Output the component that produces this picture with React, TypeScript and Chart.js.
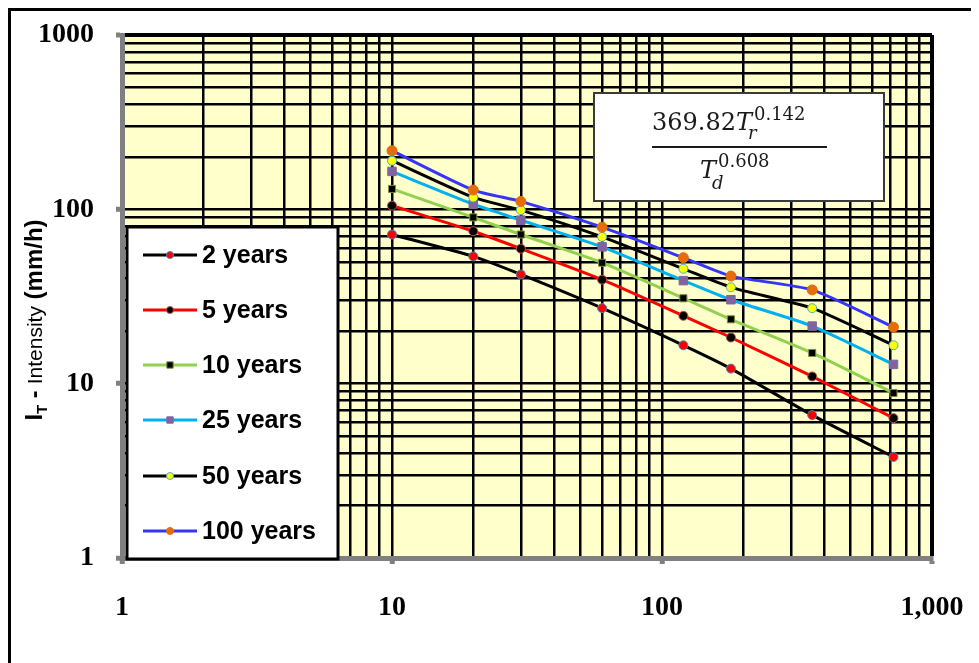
import React, { useEffect, useRef } from 'react';
import { Chart, registerables } from 'chart.js';

Chart.register(...registerables);

// ---------- data ----------
const DURATIONS = [10, 20, 30, 60, 120, 180, 360, 720];
const SERIES_NAMES = ['2 years', '5 years', '10 years', '25 years', '50 years', '100 years'];
const I_2YR = [71.7, 53.7, 42.3, 27.1, 16.6, 12.2, 6.6, 3.8];
const I_5YR = [105, 74.9, 59.5, 39.5, 24.5, 18.4, 11.0, 6.34];
const I_10YR = [131, 89.9, 71.7, 49.4, 30.9, 23.4, 15.0, 8.84];
const I_25YR = [165, 107, 86.7, 60.9, 39.0, 30.3, 21.4, 12.9];
const I_50YR = [190, 117, 99, 69.5, 45.6, 35.7, 27.1, 16.6];
const I_100YR = [217, 129, 111, 79, 52.8, 41.4, 34.5, 21.1];
const SERIES_VALUES = [I_2YR, I_5YR, I_10YR, I_25YR, I_50YR, I_100YR];

const X_TICK_VALUES = [1, 10, 100, 1000];
const X_TICK_LABELS = ['1', '10', '100', '1,000'];
const Y_TICK_VALUES = [1, 10, 100, 1000];
const Y_TICK_LABELS = ['1', '10', '100', '1000'];
const GRID_MULTIPLIERS = [1, 2, 3, 4, 5, 6, 7, 8, 9];
const GRID_DECADES = [1, 10, 100];

const Y_TITLE_PARTS = ['I', 'T', ' - ', 'Intensity', ' (mm/h)'];

// ---------- styles ----------
const LINE_COLORS = ['#000000', '#FF0000', '#92D050', '#00B0F0', '#000000', '#3535F5'];
const MARKER_FILL = ['#FF0000', '#000000', '#000000', '#8064A2', '#FFFF00', '#E46C0A'];
const MARKER_BORDER = ['#4F81BD', '#C0504D', '#77933C', '#8064A2', '#4BACC6', '#E46C0A'];
const MARKER_STYLE = ['circle', 'circle', 'rect', 'rect', 'circle', 'circle'];
const MARKER_RADIUS = [4.5, 4.5, 5, 6, 4.5, 5];

const GRID_VALUES: number[] = [];
GRID_DECADES.forEach((d) => GRID_MULTIPLIERS.forEach((m) => GRID_VALUES.push(m * d)));
GRID_VALUES.push(1000);

function labelFor(values: number[], labels: string[], v: number) {
  const i = values.indexOf(v);
  return i >= 0 ? labels[i] : '';
}

function drawMarker(ctx: CanvasRenderingContext2D, i: number, x: number, y: number, r: number) {
  ctx.fillStyle = MARKER_FILL[i];
  ctx.strokeStyle = MARKER_BORDER[i];
  ctx.lineWidth = 1;
  ctx.beginPath();
  if (MARKER_STYLE[i] === 'rect') {
    const s = r * Math.SQRT1_2;
    ctx.rect(x - s, y - s, 2 * s, 2 * s);
  } else {
    ctx.arc(x, y, r, 0, Math.PI * 2);
  }
  ctx.fill();
  ctx.stroke();
}

function drawLegend(ctx: CanvasRenderingContext2D) {
  const bx = 119, by = 219, bw = 211, bh = 332;
  ctx.fillStyle = '#FFFFFF';
  ctx.fillRect(bx, by, bw, bh);
  ctx.strokeStyle = '#000000';
  ctx.lineWidth = 3;
  ctx.strokeRect(bx, by, bw, bh);
  const rows = [247, 302, 357, 412, 468, 523];
  SERIES_NAMES.forEach((name, i) => {
    const y = rows[i];
    ctx.strokeStyle = LINE_COLORS[i];
    ctx.lineWidth = 3;
    ctx.beginPath();
    ctx.moveTo(135, y);
    ctx.lineTo(189, y);
    ctx.stroke();
    drawMarker(ctx, i, 162, y, MARKER_STYLE[i] === 'rect' ? 4.5 : 3.5);
    ctx.fillStyle = '#000000';
    ctx.font = 'bold 25px "Liberation Sans", Arial, sans-serif';
    ctx.textAlign = 'left';
    ctx.textBaseline = 'middle';
    ctx.fillText(name, 194, y + 1);
  });
}

function drawFormula(ctx: CanvasRenderingContext2D) {
  const bx = 586, by = 85, bw = 290, bh = 108;
  ctx.fillStyle = '#FFFFFF';
  ctx.fillRect(bx, by, bw, bh);
  ctx.strokeStyle = '#3a3a3a';
  ctx.lineWidth = 2;
  ctx.strokeRect(bx, by, bw, bh);
  ctx.fillStyle = '#1a1a1a';
  ctx.textAlign = 'left';
  ctx.textBaseline = 'alphabetic';
  const serif = '"DejaVu Serif", serif';
  // numerator
  let x = 644;
  const yb = 122;
  ctx.font = `24px ${serif}`;
  ctx.fillText('369.82', x, yb);
  x += ctx.measureText('369.82').width;
  ctx.font = `italic 24px ${serif}`;
  ctx.fillText('T', x, yb);
  x += ctx.measureText('T').width;
  ctx.font = `18px ${serif}`;
  ctx.fillText('0.142', x + 2, yb - 10);
  ctx.font = `italic 18px ${serif}`;
  ctx.fillText('r', x - 4, yb + 9);
  // fraction bar
  ctx.fillRect(644, 138, 175, 2);
  // denominator
  let xd = 692;
  const yd = 170;
  ctx.font = `italic 24px ${serif}`;
  ctx.fillText('T', xd, yd);
  xd += ctx.measureText('T').width;
  ctx.font = `18px ${serif}`;
  ctx.fillText('0.608', xd + 2, yd - 11);
  ctx.font = `italic 18px ${serif}`;
  ctx.fillText('d', xd - 4, yd + 11);
}

function drawYTitle(ctx: CanvasRenderingContext2D) {
  const fonts = [
    'bold 24px "Liberation Sans", Arial, sans-serif',
    'bold 15px "Liberation Sans", Arial, sans-serif',
    'bold 23px "Liberation Sans", Arial, sans-serif',
    '21px "Liberation Sans", Arial, sans-serif',
    'bold 24px "Liberation Sans", Arial, sans-serif',
  ];
  const offsets = [0, 5, 0, 0, 0];
  const widths = Y_TITLE_PARTS.map((t, i) => {
    ctx.font = fonts[i];
    return ctx.measureText(t).width;
  });
  const total = widths.reduce((a, b) => a + b, 0);
  ctx.save();
  ctx.translate(34, 312);
  ctx.rotate(-Math.PI / 2);
  ctx.fillStyle = '#000000';
  ctx.textAlign = 'left';
  ctx.textBaseline = 'alphabetic';
  let x = -total / 2;
  Y_TITLE_PARTS.forEach((t, i) => {
    ctx.font = fonts[i];
    ctx.fillText(t, x, offsets[i]);
    x += widths[i];
  });
  ctx.restore();
}

const decorPlugin = {
  id: 'decor',
  beforeDraw(chart: any) {
    const { ctx, chartArea: a } = chart;
    ctx.save();
    ctx.fillStyle = '#FFFFCC';
    ctx.fillRect(a.left, a.top, a.right - a.left, a.bottom - a.top);
    ctx.strokeStyle = '#000000';
    ctx.lineWidth = 4;
    ctx.strokeRect(1, 1, chart.width + 20, chart.height + 20);
    ctx.restore();
  },
  afterDraw(chart: any) {
    const ctx = chart.ctx as CanvasRenderingContext2D;
    ctx.save();
    drawLegend(ctx);
    drawFormula(ctx);
    drawYTitle(ctx);
    ctx.restore();
  },
};

function gridOptions() {
  return {
    color: '#000000',
    lineWidth: (c: any) => (c.tick && c.tick.value === 1000 ? 4 : 2.5),
    drawTicks: true,
    tickLength: 6,
    tickWidth: 5,
    tickColor: (c: any) =>
      c.tick && X_TICK_VALUES.indexOf(c.tick.value) >= 0 ? '#808080' : 'rgba(0,0,0,0)',
  };
}

export default function App() {
  const ref = useRef<HTMLCanvasElement>(null);
  useEffect(() => {
    const datasets = SERIES_NAMES.map((name, i) => ({
      label: name,
      data: DURATIONS.map((d, j) => ({ x: d, y: SERIES_VALUES[i][j] })),
      borderColor: LINE_COLORS[i],
      backgroundColor: MARKER_FILL[i],
      pointBackgroundColor: MARKER_FILL[i],
      pointBorderColor: MARKER_BORDER[i],
      pointBorderWidth: 1,
      pointStyle: MARKER_STYLE[i],
      pointRadius: MARKER_RADIUS[i],
      borderWidth: 3,
      tension: 0.2,
      fill: false,
      order: SERIES_NAMES.length - i,
    }));
    const chart = new Chart(ref.current!, {
      type: 'line',
      data: { datasets },
      plugins: [decorPlugin],
      options: {
        animation: false,
        responsive: false,
        devicePixelRatio: 1,
        layout: { padding: { left: 0, top: 27, right: 76, bottom: 0 } },
        plugins: { legend: { display: false }, tooltip: { enabled: false }, title: { display: false } },
        scales: {
          x: {
            type: 'logarithmic',
            min: 1,
            max: 1000,
            afterBuildTicks: (s: any) => {
              s.ticks = GRID_VALUES.map((v) => ({ value: v, major: X_TICK_VALUES.indexOf(v) >= 0 }));
            },
            afterFit: (s: any) => {
              s.height = 150;
              s.paddingLeft = 0;
              s.paddingRight = 0;
            },
            grid: gridOptions(),
            border: { color: '#808080', width: 5 },
            ticks: {
              autoSkip: false,
              maxRotation: 0,
              padding: 27,
              color: '#000000',
              font: { family: '"Liberation Serif", "Times New Roman", serif', size: 28, weight: 'bold' },
              callback: (v: any) => labelFor(X_TICK_VALUES, X_TICK_LABELS, Number(v)),
            },
          },
          y: {
            type: 'logarithmic',
            min: 1,
            max: 1000,
            afterBuildTicks: (s: any) => {
              s.ticks = GRID_VALUES.map((v) => ({ value: v, major: Y_TICK_VALUES.indexOf(v) >= 0 }));
            },
            afterFit: (s: any) => {
              s.width = 114;
              s.paddingTop = 0;
              s.paddingBottom = 0;
            },
            grid: gridOptions(),
            border: { color: '#808080', width: 5 },
            ticks: {
              autoSkip: false,
              padding: 22,
              color: '#000000',
              font: { family: '"Liberation Serif", "Times New Roman", serif', size: 28, weight: 'bold' },
              callback: (v: any) => labelFor(Y_TICK_VALUES, Y_TICK_LABELS, Number(v)),
            },
          },
        },
      } as any,
    });
    return () => chart.destroy();
  }, []);
  return (
    <div style={{ width: 971, height: 655, overflow: 'hidden' }}>
      <canvas ref={ref} width={1000} height={700} style={{ display: 'block', width: 1000, height: 700 }} />
    </div>
  );
}
